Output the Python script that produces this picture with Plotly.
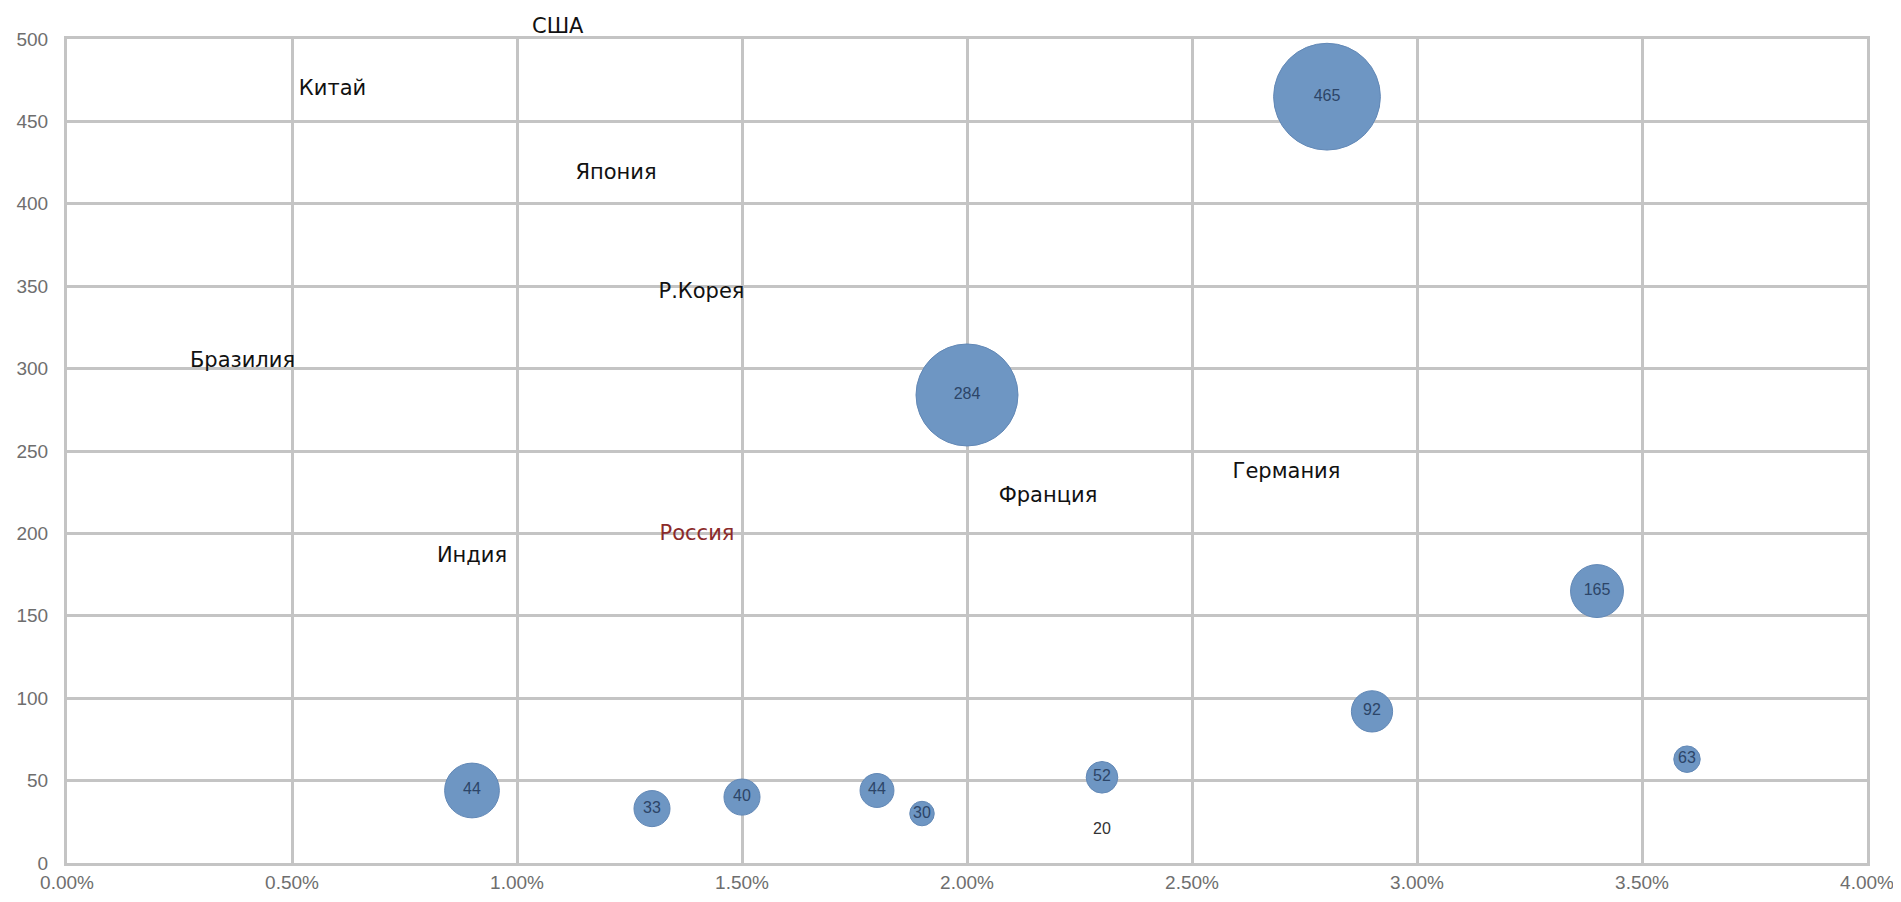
import plotly.graph_objects as go

# bubble series (x in %, y value, bubble size value, label)
bubble_x = [0.9, 1.3, 1.5, 1.8, 1.9, 2.0, 2.3, 2.8, 2.9, 3.4, 3.6]
bubble_y = [44, 33, 40, 44, 30, 284, 52, 465, 92, 165, 63]
bubble_size = [30, 13, 13, 11.5, 6, 104, 10, 114, 17, 28, 7]
bubble_labels = ["44", "33", "40", "44", "30", "284", "52", "465", "92", "165", "63"]

# label without visible bubble
lone_x = [2.3]
lone_y = [20]
lone_labels = ["20"]

# country names (stray labels)
country_names = ["США", "Китай", "Япония", "Р.Корея", "Бразилия", "Индия", "Россия", "Франция", "Германия"]
country_x = [1.09, 0.59, 1.22, 1.41, 0.39, 0.90, 1.40, 2.18, 2.71]
country_y = [508, 469, 418, 346, 304, 186, 199, 222, 237]
country_colors = ["#111111"] * 6 + ["#8b2a2a"] + ["#111111"] * 2

x_ticks = [0, 0.5, 1.0, 1.5, 2.0, 2.5, 3.0, 3.5, 4.0]
y_ticks = list(range(0, 501, 50))
y_max = 500

narrow = "Liberation Sans Narrow, Arial Narrow, Liberation Sans"

fig = go.Figure()

fig.add_trace(go.Scatter(
    x=[v / 100 for v in bubble_x], y=bubble_y,
    mode="markers+text",
    text=bubble_labels,
    textposition="middle center",
    textfont=dict(family=narrow, size=16, color="#2c4568"),
    marker=dict(size=bubble_size, sizemode="area", sizeref=0.02,
                color="rgb(110,150,195)", opacity=1,
                line=dict(color="rgb(98,136,182)", width=1)),
    cliponaxis=False,
    hoverinfo="skip",
    showlegend=False,
))

fig.add_trace(go.Scatter(
    x=[v / 100 for v in lone_x], y=lone_y,
    mode="text", text=lone_labels,
    textposition="middle center",
    textfont=dict(family=narrow, size=16, color="#333333"),
    showlegend=False, hoverinfo="skip",
))

# country name labels (all except the one above the plot area)
fig.add_trace(go.Scatter(
    x=[v / 100 for v in country_x[1:]], y=country_y[1:],
    mode="text", text=country_names[1:],
    textposition="middle center",
    textfont=dict(family="DejaVu Sans", size=21, color=country_colors[1:]),
    cliponaxis=False,
    showlegend=False, hoverinfo="skip",
))

# label above the plot area (out of the y range, so placed relative to the plot)
fig.add_annotation(
    x=country_x[0] / 100, y=country_y[0] / y_max, xref="x", yref="paper",
    xanchor="center", yanchor="middle",
    text=country_names[0], showarrow=False,
    font=dict(family="DejaVu Sans", size=21, color=country_colors[0]),
)

axis_common = dict(
    showgrid=True, gridcolor="#c4c4c4", gridwidth=3,
    showline=True, linecolor="#c4c4c4", linewidth=3, mirror=True,
    zeroline=False, ticks="",
    tickfont=dict(family=narrow, size=19, color="#6e6e6e"),
)

fig.update_layout(
    width=1901, height=902,
    paper_bgcolor="white", plot_bgcolor="white",
    margin=dict(l=59, r=42, t=31, b=47, autoexpand=False),
    xaxis=dict(range=[0, 0.04], tickvals=[v / 100 for v in x_ticks], tickformat=".2%", **axis_common),
    yaxis=dict(range=[0, y_max], tickvals=y_ticks, ticklabelstandoff=12, **axis_common),
)

fig.write_html("out.html")
